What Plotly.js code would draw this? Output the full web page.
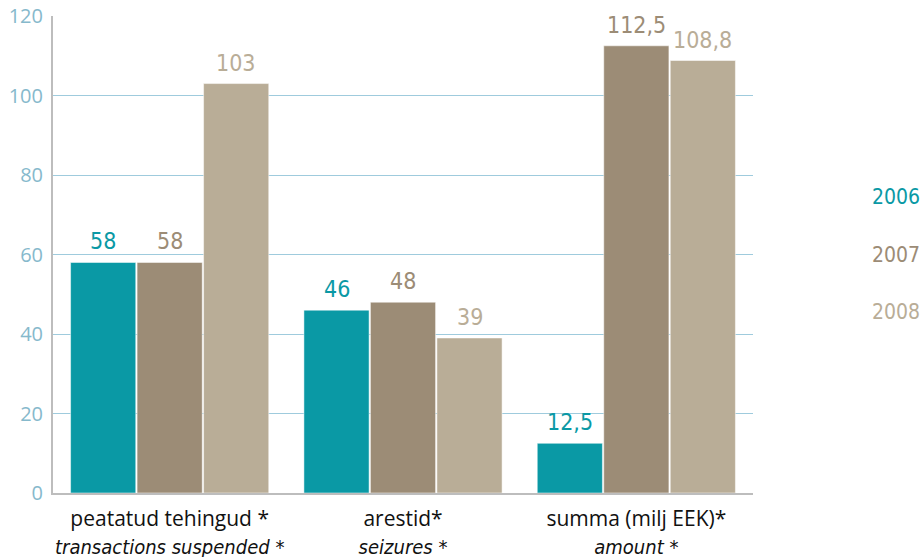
<!DOCTYPE html>
<html>
<head>
<meta charset="utf-8">
<script src="https://cdn.plot.ly/plotly-3.0.1.min.js"></script>
<style>html,body{margin:0;padding:0;background:#fff;}#chart{width:922px;height:557px;}</style>
</head>
<body>
<div id="chart"></div>
<script>
const categoriesEt = ["peatatud tehingud *", "arestid*", "summa (milj EEK)*"];
const categoriesEn = ["transactions suspended *", "seizures *", "amount *"];
const years = ["2006", "2007", "2008"];
const values2006 = [58, 46, 12.5];
const values2007 = [58, 48, 112.5];
const values2008 = [103, 39, 108.8];
const yTicks = [0, 20, 40, 60, 80, 100, 120];

const colors = ["#0A99A5", "#9C8C76", "#B9AD97"];
const seriesValues = [values2006, values2007, values2008];
const condensed = "'DejaVu Sans Condensed', 'DejaVu Sans', sans-serif";

const BARGAP = 0.145;
const GROUPGAP = 0.02;
const nSeries = seriesValues.length;
const slot = (1 - BARGAP) / nSeries;

const catKeys = categoriesEt.map((c, i) => i);
const tickText = categoriesEt.map((c, i) =>
  c + "<br><i><span style=\"font-family:'DejaVu Sans Condensed','DejaVu Sans';font-stretch:condensed;font-size:20px\">" + categoriesEn[i] + "</span></i>");

const fmt = v => String(v).replace(".", ",");

const traces = seriesValues.map((vals, k) => ({
  type: "bar",
  name: years[k],
  x: catKeys,
  y: vals,
  marker: {color: colors[k], line: {color: "rgba(255,255,255,0.5)", width: 1}},
  hoverinfo: "skip",
  showlegend: false
}));

// value labels placed over each bar through the axis scales
const valueLabels = [];
seriesValues.forEach((vals, k) => {
  vals.forEach((v, i) => {
    valueLabels.push({
      xref: "x", yref: "y",
      x: catKeys[i] + (k - (nSeries - 1) / 2) * slot,
      y: v,
      xanchor: "center", yanchor: "bottom", yshift: 6,
      text: fmt(v), showarrow: false,
      font: {family: condensed, size: 23, color: colors[k], stretch: "condensed"}
    });
  });
});

const legendLabels = years.map((yr, k) => ({
  xref: "paper", yref: "paper",
  x: 1.2415, y: [0.6205, 0.499, 0.379][k],
  xanchor: "right", yanchor: "middle",
  text: yr, showarrow: false,
  font: {family: condensed, size: 21, color: colors[k], stretch: "condensed"}
}));

const layout = {
  width: 922, height: 557,
  margin: {l: 53, r: 169, t: 16, b: 64},
  paper_bgcolor: "#fff", plot_bgcolor: "#fff",
  barmode: "group",
  bargap: BARGAP,
  bargroupgap: GROUPGAP,
  showlegend: false,
  xaxis: {
    tickmode: "array", tickvals: catKeys, ticktext: tickText,
    range: [-0.5, 2.5],
    showline: true, linecolor: "#BDBDBD", linewidth: 2,
    showgrid: false, zeroline: false, ticks: "", ticklabelstandoff: 6,
    tickfont: {family: "'Open Sans', 'Noto Sans', sans-serif", size: 21, color: "#111"},
    fixedrange: true
  },
  yaxis: {
    range: [0, 120], tickvals: yTicks,
    showline: true, linecolor: "#BDBDBD", linewidth: 2,
    showgrid: true, gridcolor: "#9FCBDD", gridwidth: 1,
    zeroline: false, ticks: "", ticklabelstandoff: 4,
    tickfont: {family: "'Open Sans', 'Noto Sans', sans-serif", size: 20, color: "#86B9CC"},
    fixedrange: true
  },
  annotations: valueLabels.concat(legendLabels)
};

Plotly.newPlot("chart", traces, layout, {displayModeBar: false, staticPlot: true});
</script>
</body>
</html>
